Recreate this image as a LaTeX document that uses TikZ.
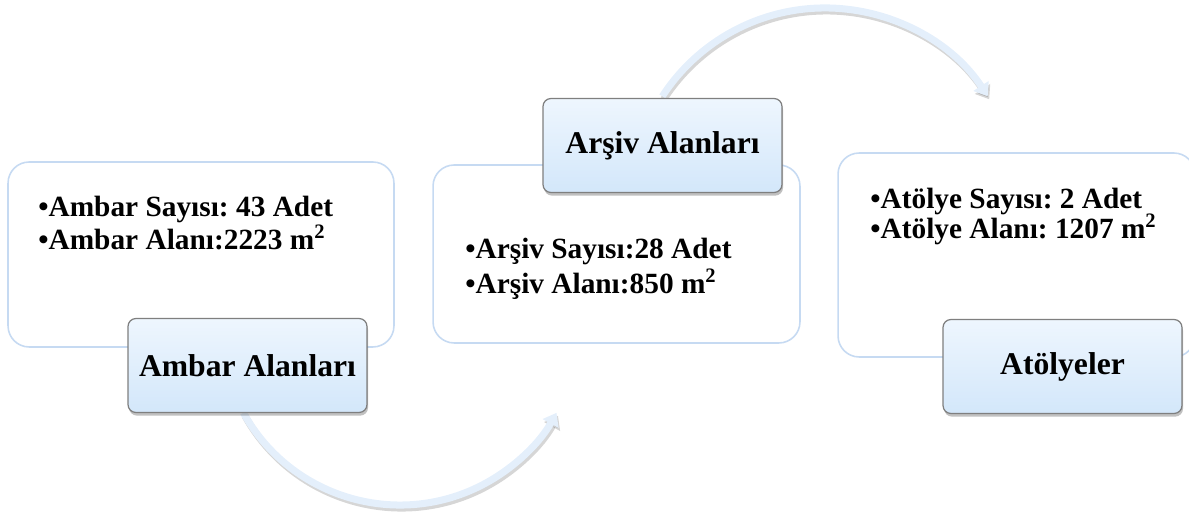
\documentclass[tikz,border=0pt]{standalone}
\usepackage{fontspec}
\setmainfont{Liberation Serif}
\usetikzlibrary{shadows,arrows.meta}

\definecolor{infoline}{HTML}{C6DAF2}
\definecolor{titleline}{HTML}{7F7F7F}
\definecolor{titletop}{HTML}{EEF6FE}
\definecolor{titlebottom}{HTML}{D3E7FA}
\definecolor{flowblue}{HTML}{E4EFFB}

\begin{document}
\frenchspacing
\begin{tikzpicture}
      [x=0.02cm, y=0.02cm,
       infobox/.style={
           rectangle,
           rounded corners=12pt,
           draw=infoline, line width=0.9pt,
           fill=white
         },
       titlebox/.style={
           rectangle,
           rounded corners=4.5pt,
           draw=titleline, line width=0.7pt,
           top color=titletop, bottom color=titlebottom,
           minimum width=4.78cm, minimum height=1.88cm,
           font=\fontsize{18}{20}\selectfont\bfseries,
           drop shadow={shadow xshift=0.6pt, shadow yshift=-1.8pt,
                        opacity=0.35, fill=black!70}
         },
       itemtext/.style={
           anchor=base west, inner sep=0pt,
           font=\fontsize{16.7}{20}\selectfont\bfseries
         },
       flowshade/.style={line width=4pt, draw=black, opacity=0.16,
           -{Triangle[width=10pt,length=7pt]}},
       flow/.style={line width=4pt, draw=flowblue,
           -{Triangle[width=10pt,length=7pt]}},
      ]
    \useasboundingbox (0,0) rectangle (1189,519);
    \clip (0,0) rectangle (1189,519);

    \node [infobox, minimum width=7.72cm, minimum height=3.7cm] (ambarbox) at (201,264.5) {};
    \node [infobox, minimum width=7.34cm, minimum height=3.56cm] (arsivbox) at (616.5,265) {};
    \node [infobox, minimum width=7.14cm, minimum height=4.08cm] (atolyebox) at (1016.5,264) {};

    \node [itemtext] (ambar1) at (38,302) {•Ambar Sayısı: 43 Adet};
    \node [itemtext] (ambar2) at (38,269) {•Ambar Alanı:2223 m\textsuperscript{2}};
    \node [itemtext] (arsiv1) at (465,260) {•Arşiv Sayısı:28 Adet};
    \node [itemtext] (arsiv2) at (465,225) {•Arşiv Alanı:850 m\textsuperscript{2}};
    \node [itemtext] (atolye1) at (870,310) {•Atölye Sayısı: 2 Adet};
    \node [itemtext] (atolye2) at (870,280) {•Atölye Alanı: 1207 m\textsuperscript{2}};

    \coordinate (ambarflow) at (243.4,106.2);
    \coordinate (arsivflow) at (662.3,422.7);
    \draw [flowshade] ([shift={(1.5,-3)}]ambarflow) arc (209:331:179);
    \draw [flow] (ambarflow) arc (209:331:179);
    \draw [flowshade] ([shift={(1.5,-3)}]arsivflow) arc (147:33:194);
    \draw [flow] (arsivflow) arc (147:33:194);

    \node [titlebox] (ambar) at (247.5,153.5) {Ambar Alanları};
    \node [titlebox] (arsiv) at (662.5,373.5) {Arşiv Alanları};
    \node [titlebox] (atolye) at (1062.5,152.5) {Atölyeler};

  \end{tikzpicture}
\end{document}
